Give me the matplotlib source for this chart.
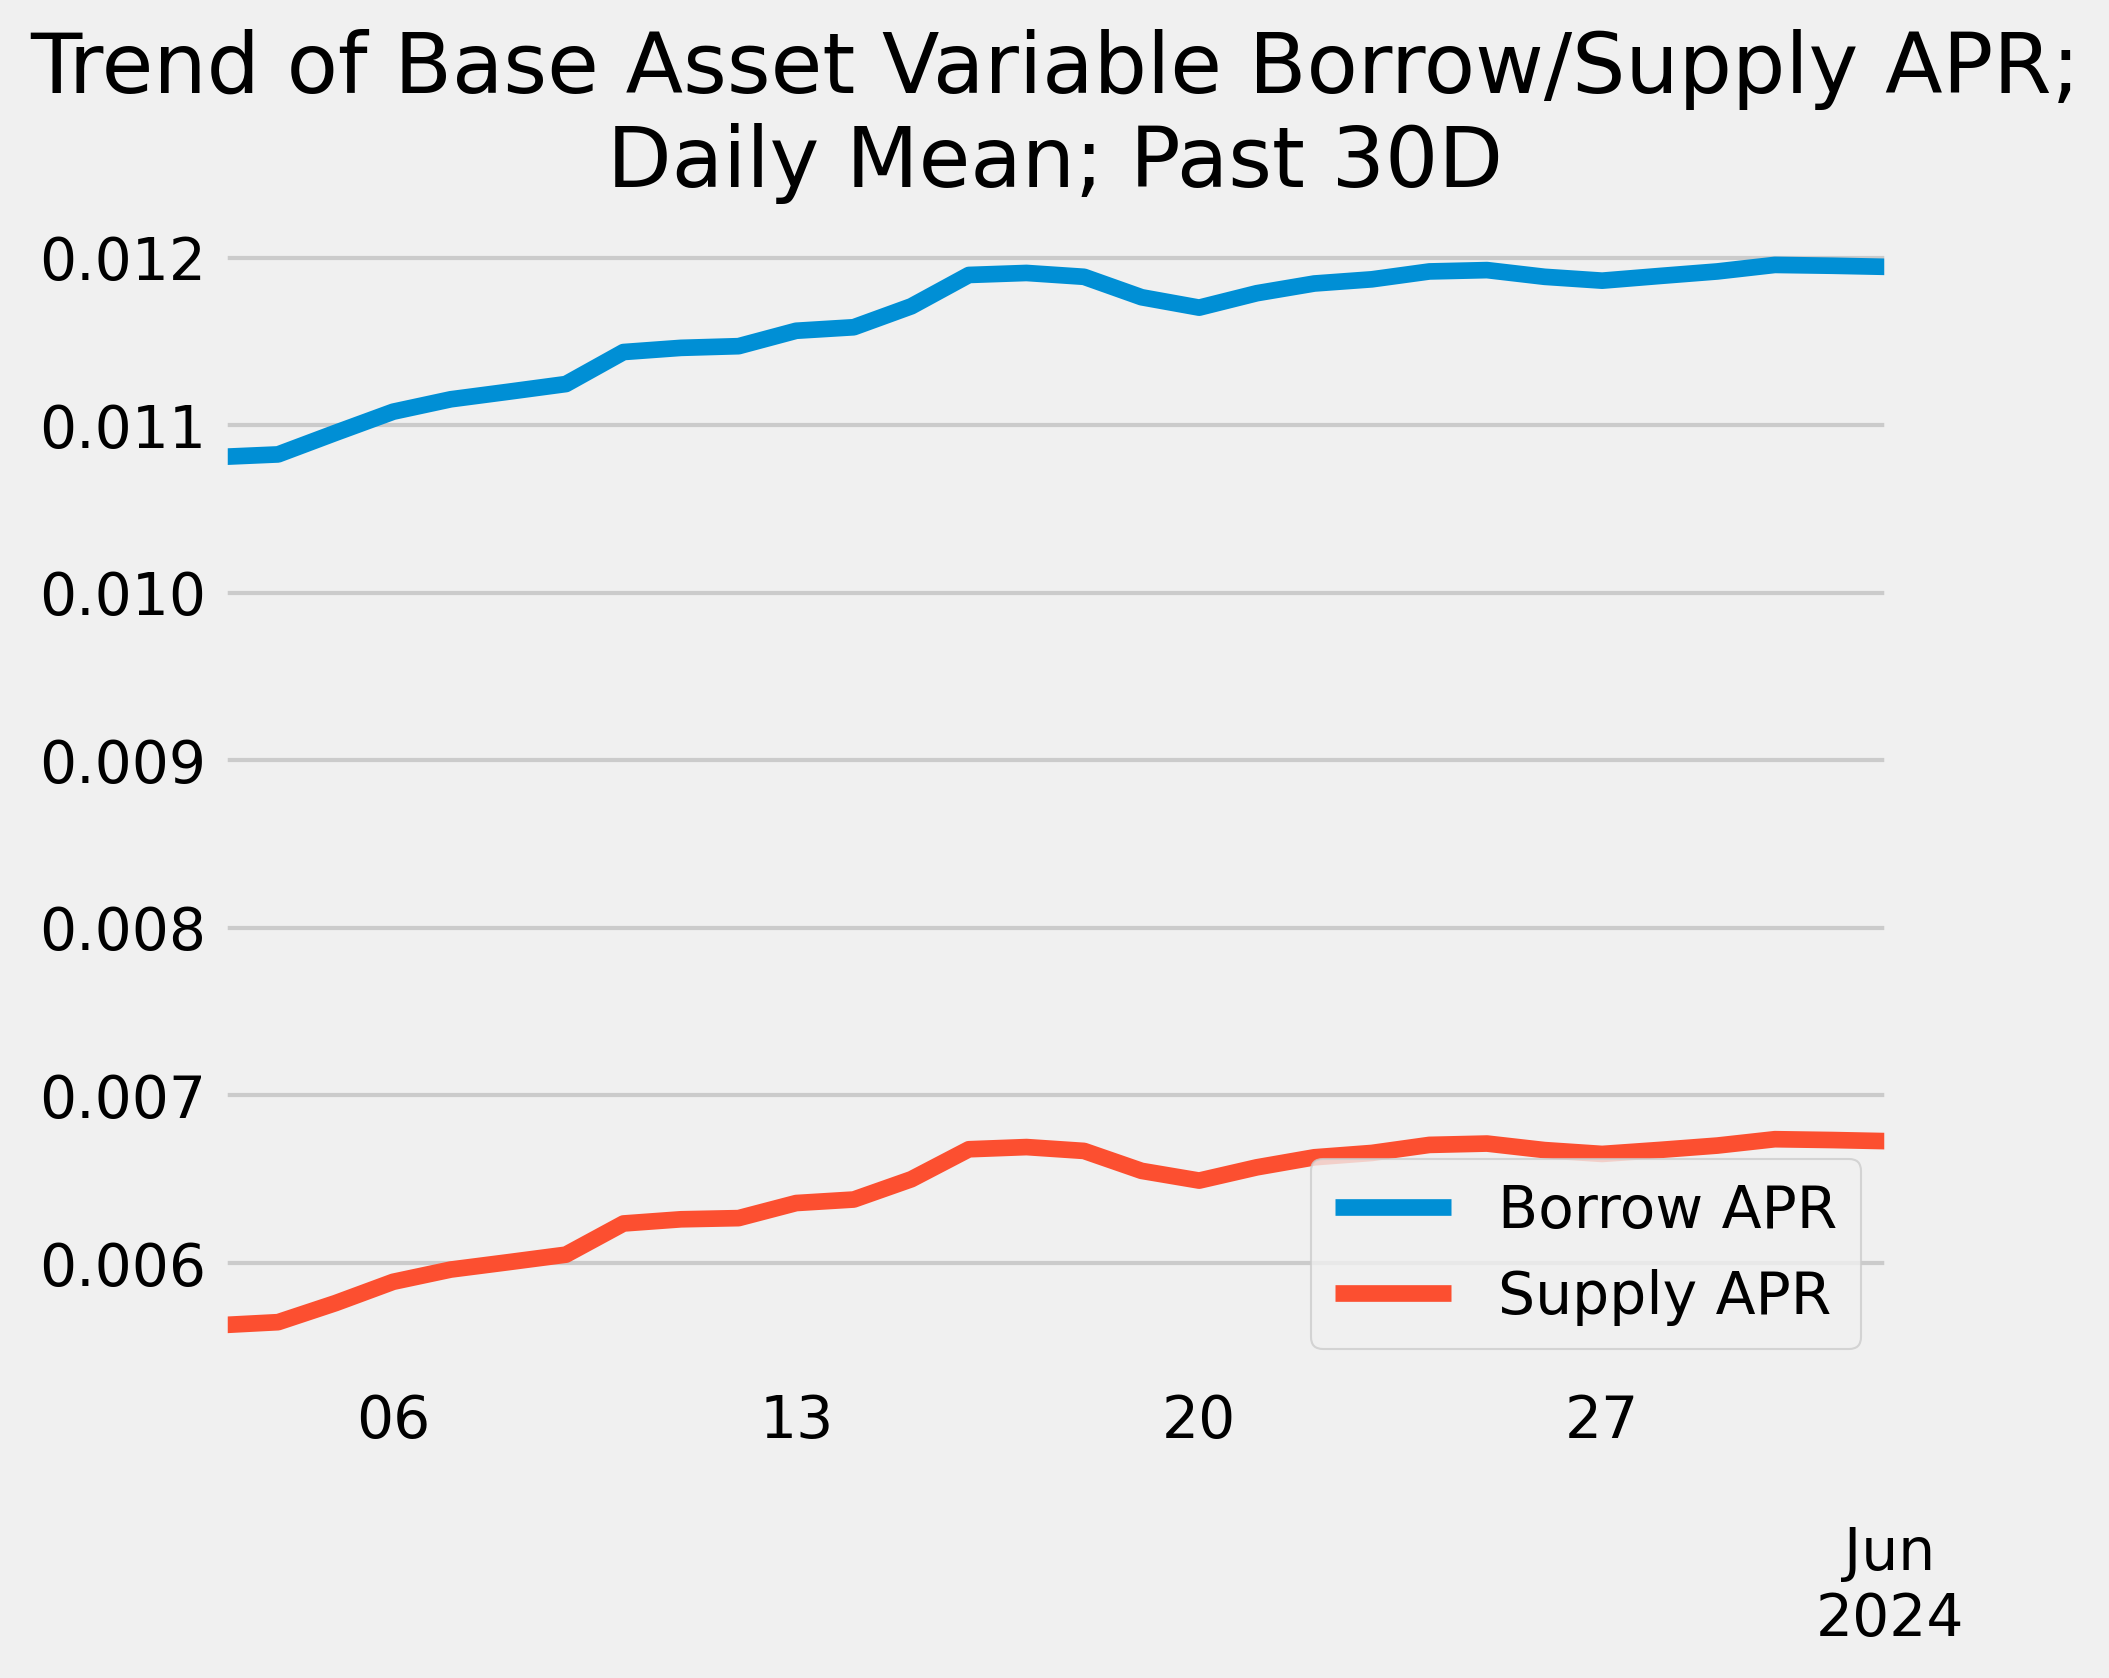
import matplotlib
matplotlib.use("Agg")
import matplotlib.pyplot as plt
import matplotlib.dates as mdates
from matplotlib.ticker import FuncFormatter, FixedLocator
import pandas as pd

plt.style.use("fivethirtyeight")

dates = pd.date_range("2024-05-03", "2024-06-01", freq="D")
borrow_apr = [0.010811, 0.010826, 0.010955, 0.011081, 0.011155, 0.011200, 0.011246,
              0.011437, 0.011462, 0.011472, 0.011564, 0.011585, 0.011710, 0.011897,
              0.011909, 0.011886, 0.011764, 0.011702, 0.011788, 0.011846, 0.011871,
              0.011918, 0.011926, 0.011886, 0.011863, 0.011891, 0.011918, 0.011957,
              0.011952, 0.011945]
supply_apr = [0.005629, 0.005647, 0.005761, 0.005888, 0.005961, 0.006005, 0.006050,
              0.006236, 0.006261, 0.006268, 0.006358, 0.006379, 0.006500, 0.006679,
              0.006692, 0.006669, 0.006550, 0.006492, 0.006571, 0.006631, 0.006657,
              0.006705, 0.006713, 0.006674, 0.006651, 0.006675, 0.006701, 0.006739,
              0.006734, 0.006727]
series_labels = ["Borrow APR", "Supply APR"]
title = "Trend of Base Asset Variable Borrow/Supply APR;\nDaily Mean; Past 30D"

W, H, DPI = 2109, 1678, 300
fig = plt.figure(figsize=(W / DPI, H / DPI), dpi=DPI)
ax = fig.add_axes([220.5 / W, 1 - 1378.2 / H, (1890.0 - 220.5) / W, (1378.2 - 211.9) / H])

ax.plot(dates, borrow_apr, label=series_labels[0])
ax.plot(dates, supply_apr, label=series_labels[1])

ax.set_xlim(dates[0], dates[-1])

tick_dates = [d for d in dates if d.dayofweek == 0 or d.day == 1]
ax.xaxis.set_major_locator(FixedLocator(mdates.date2num(tick_dates)))

def fmt(x, pos):
    d = mdates.num2date(x)
    if d.day == 1:
        return "\n\n" + d.strftime("%b") + "\n" + d.strftime("%Y")
    return d.strftime("%d")

ax.xaxis.set_major_formatter(FuncFormatter(fmt))
ax.xaxis.grid(False)
ax.legend(loc="lower right")
ax.set_title(title)

fig.savefig("out.png", dpi=DPI)
